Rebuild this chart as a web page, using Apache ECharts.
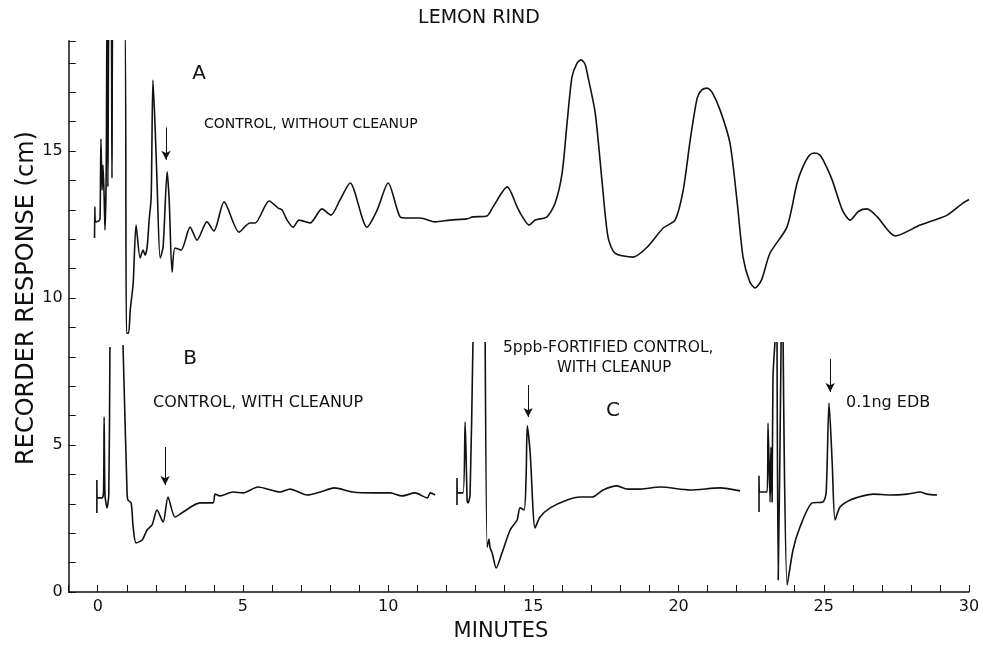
<!DOCTYPE html>
<html>
<head>
<meta charset="utf-8">
<script src="https://cdn.jsdelivr.net/npm/echarts@6/dist/echarts.min.js"></script>
<style>
  html, body { margin: 0; padding: 0; background: #fff; }
  #chart { width: 983px; height: 646px; }
</style>
</head>
<body>
<div id="chart"></div>
<script>
// chromatograms, [minutes, cm]; '-' breaks the pen trace
var traceA = [
  [-0.11,12.04],[-0.10,13.10],[-0.08,12.59],[0.04,12.62],[0.08,12.72],[0.11,15.41],[0.15,13.67],
  [0.18,14.52],[0.22,13.46],[0.25,12.31],[0.29,14.18],[0.32,20],[0.35,13.78],[0.39,20],[0.46,20],
  [0.49,14.08],[0.53,20],[0.92,20],[0.99,8.8],[1.06,8.8],[1.12,9.6],[1.22,10.5],[1.32,12.48],[1.46,11.36],
  [1.56,11.63],[1.63,11.46],[1.70,11.73],[1.77,12.65],[1.84,13.43],[1.90,17.41],[1.97,15.95],
  [2.04,14.01],[2.15,11.36],[2.25,11.73],[2.39,14.29],[2.46,13.33],[2.56,10.88],[2.66,11.70],
  [2.87,11.63],[3.18,12.41],[3.42,11.97],[3.76,12.59],[4.00,12.28],[4.35,13.27],[4.87,12.24],
  [5.24,12.55],[5.42,12.55],[5.90,13.30],[6.21,13.06],[6.35,12.99],[6.52,12.65],[6.73,12.41],
  [6.93,12.65],[7.31,12.55],[7.72,13.03],[8.03,12.82],[8.34,13.33],[8.69,13.91],[9.27,12.41],
  [9.62,12.99],[10.00,13.91],[10.41,12.76],[10.65,12.72],[11.10,12.72],[11.62,12.59],[12.13,12.65],
  [12.71,12.69],[12.92,12.76],[13.40,12.79],[13.61,13.10],[14.10,13.78],[14.44,13.10],[14.60,12.80],
  [14.85,12.48],[15.06,12.65],[15.47,12.76],[15.75,13.23],[15.99,14.25],[16.16,15.95],[16.33,17.52],
  [16.50,17.98],[16.64,18.10],[16.78,17.95],[16.88,17.52],[17.13,16.29],[17.37,13.91],[17.57,12.07],
  [17.81,11.53],[18.43,11.39],[18.92,11.73],[19.47,12.38],[19.88,12.65],[20.16,13.67],[20.40,15.37],
  [20.64,16.80],[20.80,17.08],[20.98,17.14],[21.15,17.00],[21.43,16.39],[21.77,15.27],[22.01,13.33],
  [22.22,11.39],[22.45,10.55],[22.63,10.34],[22.85,10.60],[23.15,11.53],[23.73,12.41],[24.08,13.91],
  [24.28,14.46],[24.50,14.85],[24.67,14.93],[24.85,14.88],[24.98,14.69],[25.29,14.01],[25.64,12.99],
  [25.91,12.65],[26.20,12.95],[26.49,13.03],[26.84,12.76],[27.46,12.11],[28.32,12.48],[29.25,12.82],
  [29.79,13.23],[30.00,13.35]
];
var traceB = [
  [-0.03,2.69],[-0.03,3.81],[-0.02,3.20],[0.15,3.20],[0.20,3.40],[0.22,5.95],[0.25,3.30],[0.32,2.86],
  [0.38,3.30],[0.42,8.33],[0.65,'-'],[0.87,8.40],[1.01,3.37],[1.04,3.13],[1.15,3.03],[1.22,2.21],
  [1.32,1.67],[1.53,1.77],[1.70,2.11],[1.87,2.28],[2.04,2.79],[2.25,2.38],[2.42,3.23],[2.66,2.55],
  [2.94,2.72],[3.52,3.03],[3.97,3.03],[4.04,3.33],[4.21,3.27],[4.66,3.40],[5.00,3.37],[5.52,3.57],
  [6.28,3.40],[6.62,3.50],[7.21,3.30],[7.66,3.40],[8.14,3.54],[8.79,3.40],[9.48,3.37],[10.07,3.37],
  [10.48,3.27],[10.93,3.37],[11.35,3.20],[11.45,3.37],[11.62,3.30]
];
var traceC = [
  [12.37,2.96],[12.37,3.88],[12.41,3.37],[12.58,3.37],[12.65,5.78],[12.72,3.10],[12.75,3.03],
  [12.82,3.30],[12.92,8.50],[13.10,'-'],[13.34,8.50],[13.41,1.53],[13.47,1.80],[13.51,1.50],
  [13.58,1.33],[13.72,0.82],[13.92,1.33],[14.20,2.11],[14.44,2.45],[14.54,2.86],[14.68,2.79],
  [14.75,3.91],[14.79,5.65],[14.89,4.73],[15.06,2.18],[15.23,2.55],[15.58,2.86],[16.16,3.13],
  [16.61,3.23],[17.02,3.23],[17.40,3.47],[17.88,3.61],[18.23,3.50],[18.68,3.50],[19.37,3.57],
  [20.40,3.47],[21.43,3.54],[22.12,3.44]
];
var traceD = [
  [22.77,2.72],[22.77,3.95],[22.81,3.40],[23.05,3.40],[23.08,5.75],[23.15,3.06],[23.18,4.93],
  [23.22,3.06],[23.25,7.28],[23.32,8.50],[23.36,'-'],[23.39,8.50],[23.43,0.41],[23.53,8.50],
  [23.57,'-'],[23.60,8.50],[23.74,0.24],[23.94,1.43],[24.18,2.21],[24.60,3.03],[24.97,3.06],
  [25.08,3.37],[25.18,6.43],[25.29,4.39],[25.39,2.45],[25.56,2.89],[25.91,3.13],[26.35,3.27],
  [26.70,3.33],[27.28,3.30],[27.87,3.33],[28.32,3.40],[28.56,3.33],[28.90,3.30]
];
// arrows marking the EDB peak: [minutes, from cm, to cm]
var arrowA = [2.35, 15.8, 14.7];
var arrowB = [2.32, 4.93, 3.64];
var arrowC = [14.82, 7.04, 5.95];
var arrowD = [25.22, 7.93, 6.80];

var ink = '#111';
var font = 'DejaVu Sans';

function arrow(a) {
  return {
    silent: true,
    animation: false,
    symbol: ['none', 'arrow'],
    symbolSize: [7, 9],
    label: { show: false },
    lineStyle: { color: ink, width: 1, type: 'solid' },
    data: [[{ coord: [a[0], a[1]] }, { coord: [a[0], a[2]] }]]
  };
}

function trace(data, a) {
  return {
    type: 'line',
    data: data,
    showSymbol: false,
    connectNulls: false,
    clip: true,
    smooth: 0.25,
    lineStyle: { color: ink, width: 1.6 },
    markLine: arrow(a)
  };
}

function txt(x, y, s, size, align) {
  return {
    type: 'text', x: x, y: y,
    style: { text: s, fill: ink, font: size + 'px "' + font + '"', align: align || 'left', verticalAlign: 'middle' }
  };
}

var myChart = echarts.init(document.getElementById('chart'));
var option = {
  backgroundColor: '#fff',
  animation: false,
  grid: { left: 68.7, right: 14, top: 40.75, bottom: 54 },
  xAxis: {
    type: 'value', min: -1, max: 30, interval: 1,
    axisLine: { onZero: false, lineStyle: { color: ink, width: 1.5 } },
    axisTick: { inside: true, length: 7, lineStyle: { color: ink, width: 1 } },
    axisLabel: {
      color: ink, fontSize: 16, fontFamily: font, margin: 7,
      formatter: function (v) { return (v >= 0 && v % 5 === 0) ? String(v) : ''; }
    },
    splitLine: { show: false }
  },
  yAxis: {
    type: 'value', min: 0, max: 18.75, interval: 1,
    axisLine: { show: true, onZero: false, lineStyle: { color: ink, width: 1.5 } },
    axisTick: { show: true, inside: true, length: 7, lineStyle: { color: ink, width: 1 } },
    axisLabel: {
      color: ink, fontSize: 16, fontFamily: font, margin: 6,
      formatter: function (v) { return (v % 5 === 0) ? String(v) : ''; }
    },
    splitLine: { show: false }
  },
  series: [trace(traceA, arrowA), trace(traceB, arrowB), trace(traceC, arrowC), trace(traceD, arrowD)],
  graphic: [
    txt(479, 18, 'LEMON RIND', 19, 'center'),
    txt(501, 632, 'MINUTES', 21, 'center'),
    {
      type: 'text', x: 27, y: 298, rotation: Math.PI / 2,
      style: { text: 'RECORDER RESPONSE (cm)', fill: ink, font: '24px "' + font + '"', align: 'center', verticalAlign: 'middle' }
    },
    txt(199, 74, 'A', 20, 'center'),
    txt(204, 124, 'CONTROL, WITHOUT CLEANUP', 14),
    txt(190, 359, 'B', 20, 'center'),
    txt(153, 403, 'CONTROL, WITH CLEANUP', 16),
    txt(503, 348, '5ppb-FORTIFIED CONTROL,', 15.5),
    txt(557, 368, 'WITH CLEANUP', 15),
    txt(613, 411, 'C', 20, 'center'),
    txt(846, 403, '0.1ng EDB', 16)
  ]
};
myChart.setOption(option, true);
</script>
</body>
</html>
